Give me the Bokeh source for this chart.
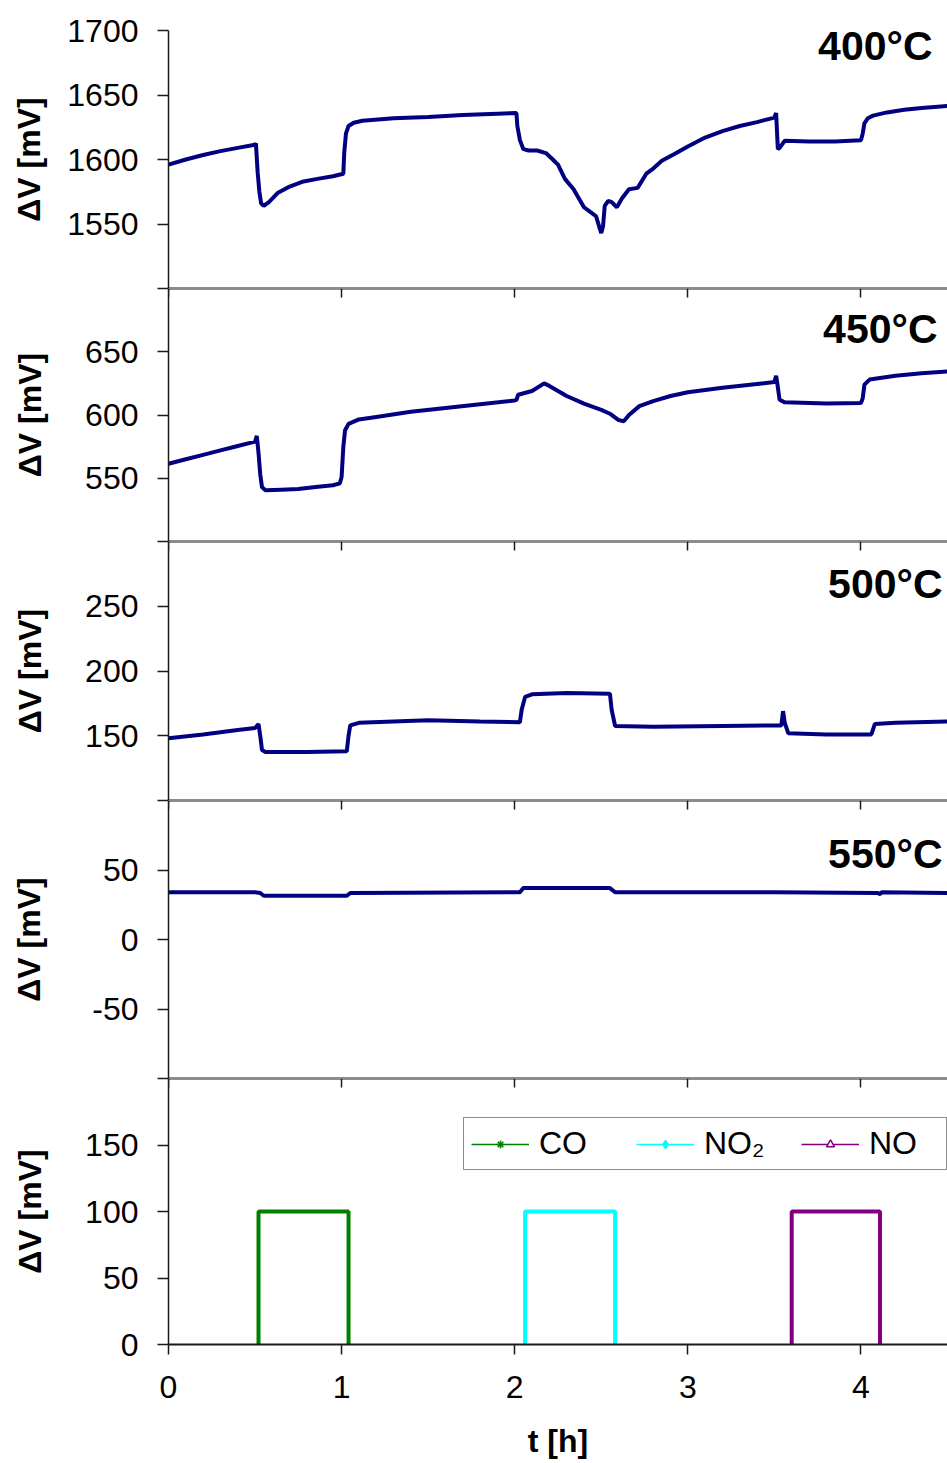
from bokeh.plotting import figure
from bokeh.layouts import column
from bokeh.models import (Range1d, LinearAxis, FixedTicker, Label, Legend,
                          LegendItem, ColumnDataSource)
from bokeh.embed import file_html
from bokeh.resources import INLINE

FONT = "Liberation Sans"
NAVY = "#000080"
AXC = "#1a1a1a"

# ---------------- data ----------------
t400 = [0, 0.1, 0.2, 0.3, 0.4, 0.5, 0.505, 0.515, 0.525, 0.535, 0.55, 0.58, 0.63, 0.7, 0.78,
        0.86, 0.95, 1.01, 1.015, 1.025, 1.04, 1.07, 1.12, 1.3, 1.5, 1.7, 1.9, 2.01, 2.015,
        2.03, 2.05, 2.08, 2.13, 2.18, 2.22, 2.25, 2.29, 2.34, 2.40, 2.44, 2.47, 2.49, 2.50,
        2.51, 2.52, 2.54, 2.56, 2.59, 2.62, 2.66, 2.71, 2.76, 2.80, 2.85, 2.92, 3.0, 3.1,
        3.2, 3.3, 3.4, 3.5, 3.51, 3.52, 3.53, 3.56, 3.7, 3.85, 4.0, 4.01, 4.02, 4.04, 4.07,
        4.15, 4.25, 4.35, 4.5]
v400 = [1596, 1600, 1603.5, 1606.5, 1609, 1611.5, 1612.5, 1590, 1575, 1566, 1564, 1567, 1574,
        1579, 1583, 1585, 1587, 1589, 1605, 1620, 1626, 1628.5, 1630, 1632, 1633, 1634.5,
        1635.5, 1636, 1626, 1615, 1608, 1607, 1607, 1605, 1600, 1596, 1585, 1577, 1563, 1559,
        1556, 1547, 1543, 1548, 1564, 1568, 1567, 1563, 1570, 1577, 1578, 1589, 1593, 1599,
        1604, 1610, 1617, 1622, 1626, 1629, 1632.5, 1636, 1608, 1609, 1614.5, 1614, 1614,
        1615, 1620, 1628, 1632, 1634, 1636.5, 1638.5, 1640, 1641.5]

t450 = [0, 0.1, 0.2, 0.3, 0.4, 0.5, 0.51, 0.52, 0.53, 0.54, 0.56, 0.65, 0.75, 0.85, 0.95,
        0.99, 1.0, 1.01, 1.02, 1.04, 1.1, 1.2, 1.4, 1.6, 1.8, 2.0, 2.01, 2.02, 2.1, 2.17,
        2.2, 2.3, 2.4, 2.5, 2.55, 2.6, 2.63, 2.66, 2.72, 2.8, 2.9, 3.0, 3.2, 3.4, 3.5, 3.51,
        3.52, 3.53, 3.56, 3.8, 4.0, 4.01, 4.02, 4.05, 4.2, 4.35, 4.5]
v450 = [561.5, 565, 568.5, 572, 575.5, 579, 583.5, 570, 553, 543, 540.5, 541, 541.5, 543,
        544.5, 546, 551, 575, 588, 593, 596.5, 598.5, 602.5, 605.5, 608.5, 611.5, 612, 616,
        619, 625, 623, 615, 609, 604, 601, 596, 595, 600, 607, 611, 615, 618, 621.5, 624.5,
        626, 631, 622, 612, 610, 609, 609.5, 613, 624, 628, 631, 633, 634.5]

t500 = [0, 0.2, 0.4, 0.5, 0.52, 0.53, 0.54, 0.56, 0.8, 1.03, 1.04, 1.05, 1.1, 1.5, 1.8,
        2.03, 2.04, 2.06, 2.1, 2.3, 2.55, 2.56, 2.58, 2.8, 3.2, 3.54, 3.55, 3.56, 3.58, 3.8,
        4.06, 4.07, 4.08, 4.2, 4.5]
v500 = [148, 151, 154.5, 156, 159, 150, 139, 137.5, 137.5, 138, 150, 158, 160, 162, 161,
        160.5, 170, 180, 182, 183, 182.5, 170, 157.5, 157, 157.5, 158, 169, 160, 152, 151,
        151, 155, 159, 160, 161]

t550 = [0, 0.5, 0.53, 0.55, 1.03, 1.05, 2.03, 2.05, 2.55, 2.58, 3.5, 4.1, 4.11, 4.12, 4.5]
v550 = [34, 34, 33.5, 31.5, 31.5, 33.5, 34, 37, 37, 34, 34, 33.5, 32.5, 34, 33.5]

t_co = [0.52, 0.52, 1.04, 1.04]
v_co = [0, 100, 100, 0]
t_no2 = [2.06, 2.06, 2.58, 2.58]
v_no2 = [0, 100, 100, 0]
t_no = [3.60, 3.60, 4.11, 4.11]
v_no = [0, 100, 100, 0]

temps = ["400°C", "450°C", "500°C", "550°C"]
y_label = "ΔV [mV]"
x_label = "t [h]"
x_ticks = [0, 1, 2, 3, 4]
x_tick_labels = ["0", "1", "2", "3", "4"]

yticks400 = [1500, 1550, 1600, 1650, 1700]
ylabels400 = ["", "1550", "1600", "1650", "1700"]
yticks450 = [500, 550, 600, 650, 700]
ylabels450 = ["", "550", "600", "650", ""]
yticks500 = [100, 150, 200, 250, 300]
ylabels500 = ["", "150", "200", "250", ""]
yticks550 = [-100, -50, 0, 50, 100]
ylabels550 = ["", "-50", "0", "50", ""]
yticks_gas = [0, 50, 100, 150, 200]
ylabels_gas = ["0", "50", "100", "150", ""]

gas_names = ["CO", "NO₂", "NO"]
gas_colors = ["#008000", "#00FFFF", "#800080"]

# ---------------- layout helpers ----------------
xr = Range1d(0, 4.5)
W = 947


def style_axis(ax, tick_in=0, tick_out=0):
    ax.axis_line_color = AXC
    ax.axis_line_width = 2
    ax.major_tick_line_color = AXC
    ax.major_tick_line_width = 1.5
    ax.major_tick_in = tick_in
    ax.major_tick_out = tick_out
    ax.minor_tick_in = 0
    ax.minor_tick_out = 0
    ax.minor_tick_line_color = None
    ax.major_label_text_font = FONT
    ax.major_label_text_color = "black"


def boundary_axis(p, side, loc, tick_in):
    ax = LinearAxis(fixed_location=loc, ticker=FixedTicker(ticks=x_ticks))
    style_axis(ax, tick_in=tick_in, tick_out=0)
    ax.major_label_text_font_size = "0px"
    ax.major_label_text_alpha = 0
    p.add_layout(ax, side)


def make_panel(height, ylim, yticks, ylabels, label_standoff, btop, bbottom,
               has_top_axis, has_bottom_boundary):
    p = figure(width=W, height=height, x_range=xr, y_range=Range1d(*ylim),
               x_axis_location=None, output_backend="svg", toolbar_location=None,
               min_border_left=168, min_border_right=0, min_border_top=btop,
               min_border_bottom=bbottom)
    p.outline_line_color = None
    p.background_fill_color = "white"
    p.border_fill_color = "white"
    for g in p.grid:
        g.visible = False
    ya = p.yaxis[0]
    ya.ticker = FixedTicker(ticks=yticks)
    ya.major_label_overrides = {k: s for k, s in zip(yticks, ylabels)}
    style_axis(ya, tick_in=0, tick_out=11)
    ya.axis_line_width = 1.5
    ya.major_label_text_font_size = "32px"
    ya.major_label_standoff = 19
    ya.axis_label = y_label
    ya.axis_label_text_font = FONT
    ya.axis_label_text_font_size = "32px"
    ya.axis_label_text_font_style = "bold"
    ya.axis_label_text_color = "black"
    ya.axis_label_standoff = label_standoff
    if has_top_axis:
        boundary_axis(p, "above", ylim[1], 9)
    if has_bottom_boundary:
        boundary_axis(p, "below", ylim[0], 0)
    return p


def temp_label(p, text, x, y):
    p.add_layout(Label(x=x, y=y, x_units="screen", y_units="screen", text=text,
                       text_align="right", text_baseline="alphabetic",
                       text_font=FONT, text_font_style="bold",
                       text_font_size="41px", text_color="black"))


p1 = make_panel(288, (1500, 1700), yticks400, ylabels400, 17, 30, 0, False, True)
p1.line(t400, v400, line_color=NAVY, line_width=4)
temp_label(p1, temps[0], 764, 243)

p2 = make_panel(253, (500, 700), yticks450, ylabels450, 34, 0, 0, True, True)
p2.line(t450, v450, line_color=NAVY, line_width=4)
temp_label(p2, temps[1], 769, 213)

p3 = make_panel(259, (100, 300), yticks500, ylabels500, 34, 0, 0, True, True)
p3.line(t500, v500, line_color=NAVY, line_width=4)
temp_label(p3, temps[2], 774, 217)

p4 = make_panel(278, (-100, 100), yticks550, ylabels550, 42, 0, 0, True, True)
p4.line(t550, v550, line_color=NAVY, line_width=4)
temp_label(p4, temps[3], 774, 225)

p5 = make_panel(383, (0, 200), yticks_gas, ylabels_gas, 34, 0, 0, True, False)
xa = LinearAxis(ticker=FixedTicker(ticks=x_ticks))
style_axis(xa, tick_in=0, tick_out=10)
xa.major_label_overrides = {k: s for k, s in zip(x_ticks, x_tick_labels)}
xa.major_label_text_font_size = "32px"
xa.major_label_standoff = 21
xa.axis_label = x_label
xa.axis_label_text_font = FONT
xa.axis_label_text_font_size = "32px"
xa.axis_label_text_font_style = "bold"
xa.axis_label_text_color = "black"
xa.axis_label_standoff = 22
p5.add_layout(xa, "below")

markers = ["asterisk", "diamond", "triangle"]
marker_sizes = [12, 14, 12]
marker_fills = ["#008000", "#00FFFF", "white"]
items = []
for name, col, tx, vy, mk, ms, mf in zip(gas_names, gas_colors, [t_co, t_no2, t_no],
                                         [v_co, v_no2, v_no], markers, marker_sizes,
                                         marker_fills):
    src = ColumnDataSource(dict(t=tx, v=vy))
    p5.line("t", "v", source=src, line_color=col, line_width=4)
    lr = p5.line("t", "v", source=src, line_color=col, line_width=1.5, visible=False)
    sr = p5.scatter("t", "v", source=src, marker=mk, size=ms, line_color=col,
                    fill_color=mf, line_width=1.5, visible=False)
    items.append(LegendItem(label=name, renderers=[lr, sr]))

legend = Legend(items=items, location=(295, 174), orientation="horizontal",
                glyph_width=58, glyph_height=20, label_width=70, label_standoff=10,
                spacing=27, padding=7, margin=0,
                border_line_color=AXC, border_line_width=1.5,
                background_fill_color="white", background_fill_alpha=1.0,
                label_text_font=FONT, label_text_font_size="32px",
                label_text_color="black")
p5.add_layout(legend, "center")

layout = column(p1, p2, p3, p4, p5, spacing=0)
open("out.html", "w").write(file_html(layout, INLINE))
